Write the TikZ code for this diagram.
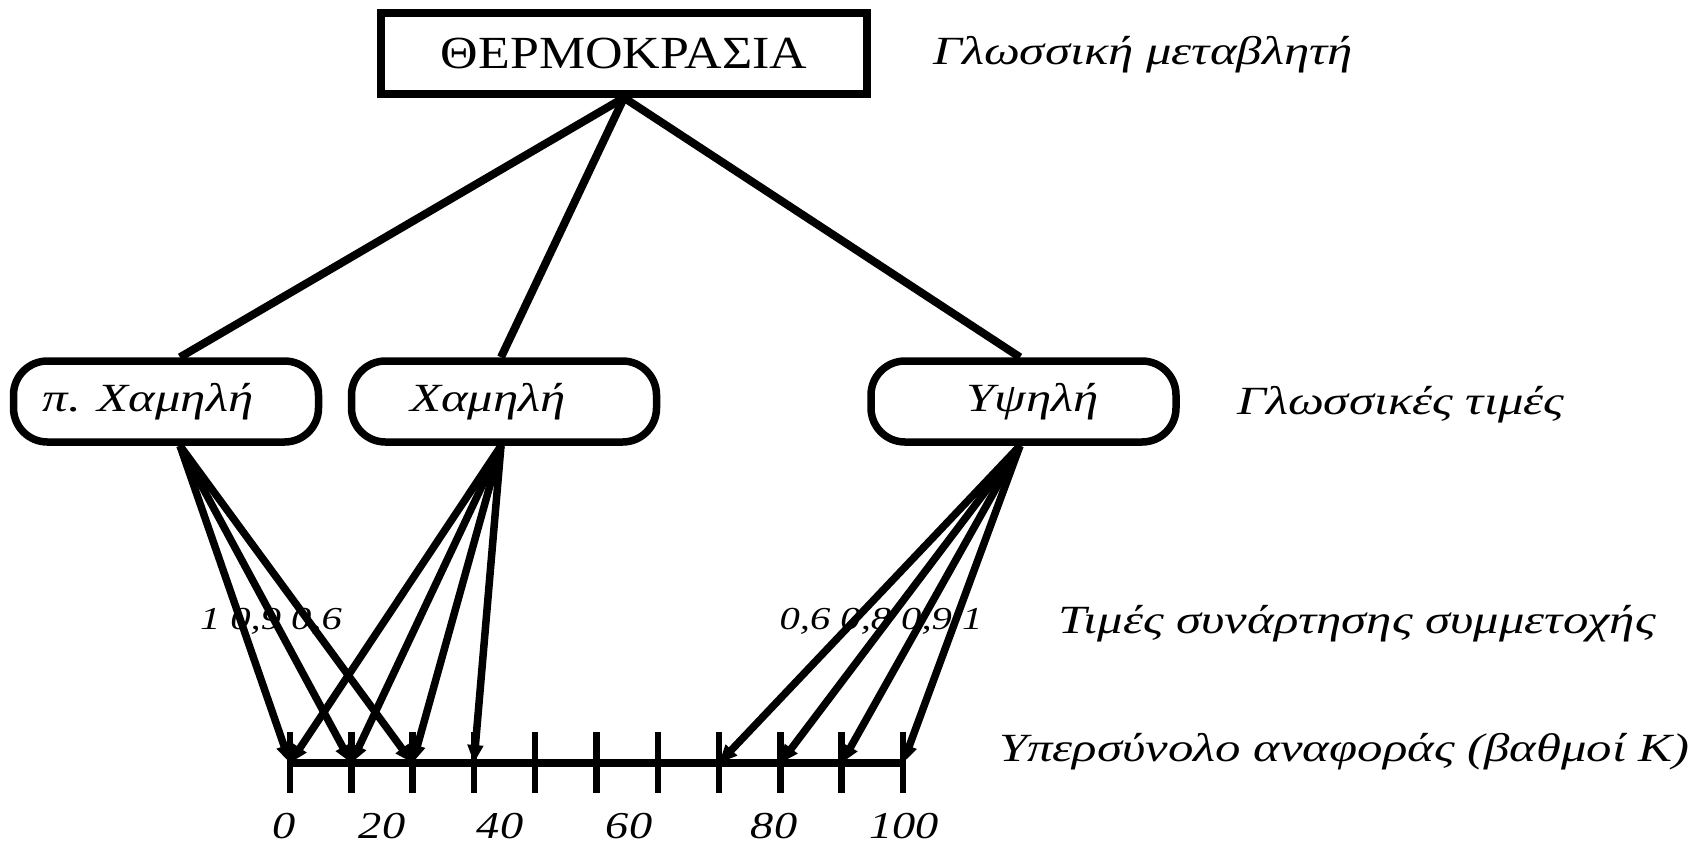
\documentclass[tikz,border=0pt]{standalone}
\usepackage{fontspec}
\setmainfont{Liberation Serif}
\newfontfamily\wideit[FakeStretch=1.27]{Liberation Serif}
\newfontfamily\wideup[FakeStretch=1.13]{Liberation Serif}
\newfontfamily\widenum[FakeStretch=1.22]{Liberation Serif}
\usetikzlibrary{arrows.meta}
\begin{document}
\begin{tikzpicture}[x=1pt,y=-1pt,
  varbox/.style={draw, line width=7.5pt, minimum width=486pt, minimum height=81pt, inner sep=0pt, font=\wideup\fontsize{46}{50}\selectfont},
  valbox/.style={draw, line width=7.5pt, rounded corners=34pt, minimum width=305pt, minimum height=81pt, inner sep=0pt, font=\wideit\itshape\fontsize{40}{44}\selectfont},
  conn/.style={line width=8pt},
  fan/.style={line width=7.5pt, -{Triangle[length=18pt,width=15pt]}},
  axisline/.style={line width=7.5pt},
  tickline/.style={line width=6.5pt},
  sidelabel/.style={anchor=west, inner sep=0pt, font=\wideit\itshape\fontsize{40}{44}\selectfont},
  numlabel/.style={inner sep=0pt, font=\widenum\itshape\fontsize{38}{40}\selectfont},
  vallabel/.style={inner sep=0pt, font=\wideit\itshape\fontsize{32}{36}\selectfont}
]
\useasboundingbox (0,0) rectangle (1702,844);
\fill[white] (0,0) rectangle (1702,844);

% top variable
\node[varbox] (thermo) at (624,53.5) {ΘΕΡΜΟΚΡΑΣΙΑ};
\node[sidelabel] (lv) at (933,55) {Γλωσσική μεταβλητή};

% linguistic values
\node[valbox] (pch) at (166,401.5) {π. Χαμηλή\hspace*{36pt}};
\node[valbox] (ch) at (504,401.5) {Χαμηλή\hspace*{32pt}};
\node[valbox] (yp) at (1023.5,401.5) {\hspace*{18pt}Υψηλή};
\node[sidelabel] (lt) at (1237,405) {Γλωσσικές τιμές};

% membership values
\node[vallabel] (mv1) at (271,621) {1\hspace{10pt}0,9\hspace{10pt}0,6};
\node[vallabel] (mv2) at (881,621) {0,6\hspace{10pt}0,8\hspace{10pt}0,9\hspace{10pt}1};
\node[sidelabel] (lm) at (1058,624) {Τιμές συνάρτησης συμμετοχής};

% axis coordinates
\foreach \i in {0,...,10}{
  \coordinate (t\i) at ({290+61.3*\i},763);
}
\draw[axisline] (t0) -- (t10);
\foreach \i in {0,...,10}{
  \draw[tickline] ([yshift=31pt]t\i) -- ([yshift=-30pt]t\i);
}
\node[sidelabel] (lu) at (999,752) {Υπερσύνολο αναφοράς (βαθμοί Κ)};

% axis numbers
\node[numlabel] (n0) at (284,826) {0};
\node[numlabel] (n20) at (382,826) {20};
\node[numlabel] (n40) at (500,826) {40};
\node[numlabel] (n60) at (629,826) {60};
\node[numlabel] (n80) at (774,826) {80};
\node[numlabel] (n100) at (904,826) {100};

% connectors top
\draw[conn] (thermo.south) -- ([xshift=14pt]pch.north);
\draw[conn] (thermo.south) -- ([xshift=-3pt]ch.north);
\draw[conn] (thermo.south) -- ([xshift=-3.5pt]yp.north);

% fans
\foreach \i in {0,1,2}{
  \draw[fan] ([xshift=14pt]pch.south) -- (t\i);
}
\foreach \i in {0,1,2,3}{
  \draw[fan] ([xshift=-3pt]ch.south) -- (t\i);
}
\foreach \i in {7,8,9,10}{
  \draw[fan] ([xshift=-3.5pt]yp.south) -- (t\i);
}
\end{tikzpicture}
\end{document}
